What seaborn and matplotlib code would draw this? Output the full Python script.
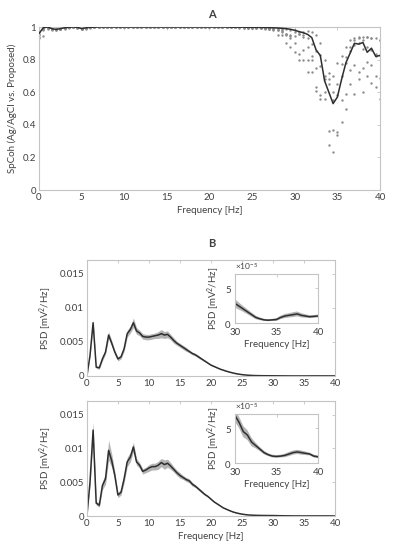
import numpy as np
import pandas as pd
import matplotlib
matplotlib.use("Agg")
import matplotlib.pyplot as plt
from matplotlib.ticker import FuncFormatter
import seaborn as sns

# frequency grid (Hz), 0.5 Hz bins
freq = np.arange(0, 40.5, 0.5)

# panel A: spectral coherence, mean line
coh_mean = [
    0.96, 0.995, 1.0, 0.99, 0.985, 0.99, 0.995, 0.998, 1.0, 0.998,
    0.99, 0.995, 0.998, 0.999, 1.0, 1.0, 1.0, 1.0, 1.0, 1.0,
    1.0, 1.0, 1.0, 1.0, 1.0, 1.0, 1.0, 1.0, 1.0, 1.0,
    1.0, 1.0, 1.0, 1.0, 1.0, 1.0, 1.0, 1.0, 1.0, 1.0,
    1.0, 1.0, 1.0, 1.0, 1.0, 0.999, 0.999, 0.999, 0.999, 0.998,
    0.998, 0.998, 0.997, 0.997, 0.996, 0.995, 0.994, 0.992, 0.99, 0.986,
    0.98, 0.972, 0.965, 0.955, 0.935, 0.86, 0.825, 0.67, 0.6, 0.53,
    0.57, 0.68, 0.78, 0.84, 0.9, 0.895, 0.905, 0.845, 0.87, 0.82,
    0.825,
]

# panel A: individual recordings (dots)
coh_s1 = [
    0.93, 0.945, 0.99, 0.985, 0.98, 0.985, 0.99, 0.995, 0.997, 0.995,
    0.985, 0.99, 0.995, 0.997, 0.998, 0.999, 0.999, 0.999, 0.999, 0.999,
    0.999, 0.999, 0.999, 0.999, 0.999, 0.999, 0.999, 0.999, 0.999, 0.999,
    0.999, 0.999, 0.999, 0.999, 0.999, 0.999, 0.999, 0.999, 0.999, 0.999,
    0.999, 0.999, 0.999, 0.998, 0.998, 0.998, 0.997, 0.997, 0.996, 0.996,
    0.995, 0.995, 0.994, 0.99, 0.985, 0.98, 0.985, 0.98, 0.96, 0.95,
    0.945, 0.97, 0.97, 0.975, 0.97, 0.95, 0.90, 0.80, 0.72, 0.70,
    0.78, 0.82, 0.88, 0.92, 0.93, 0.94, 0.94, 0.94, 0.93, 0.93,
    0.92,
]
coh_s2 = [
    0.95, 0.99, 1.0, 0.99, 0.99, 0.99, 1.0, 1.0, 1.0, 1.0,
    0.99, 1.0, 1.0, 1.0, 1.0, 1.0, 1.0, 1.0, 1.0, 1.0,
    1.0, 1.0, 1.0, 1.0, 1.0, 1.0, 1.0, 1.0, 1.0, 1.0,
    1.0, 1.0, 1.0, 1.0, 1.0, 1.0, 1.0, 1.0, 1.0, 1.0,
    1.0, 1.0, 1.0, 1.0, 1.0, 0.999, 0.999, 0.998, 0.998, 0.997,
    0.998, 0.997, 0.997, 0.996, 0.995, 0.99, 0.953, 0.953, 0.96, 0.943,
    0.98, 0.96, 0.94, 0.878, 0.796, 0.75, 0.76, 0.68, 0.68, 0.60,
    0.65, 0.776, 0.816, 0.878, 0.918, 0.93, 0.867, 0.94, 0.93, 0.837,
    0.918,
]
coh_s3 = [
    0.94, 0.98, 0.995, 0.98, 0.98, 0.99, 0.995, 1.0, 1.0, 0.995,
    0.99, 0.995, 0.998, 0.998, 0.999, 0.999, 0.999, 0.999, 0.999, 0.999,
    0.999, 0.999, 0.999, 0.999, 0.999, 0.999, 0.999, 0.999, 0.999, 0.999,
    0.999, 0.999, 0.999, 0.999, 0.999, 0.999, 0.999, 0.999, 0.999, 0.999,
    0.999, 0.998, 0.998, 0.998, 0.997, 0.997, 0.997, 0.996, 0.996, 0.995,
    0.995, 0.994, 0.993, 0.992, 0.99, 0.985, 0.98, 0.975, 0.90, 0.878,
    0.847, 0.833, 0.80, 0.724, 0.724, 0.633, 0.582, 0.56, 0.363, 0.367,
    0.357, 0.418, 0.59, 0.735, 0.765, 0.724, 0.60, 0.786, 0.765, 0.70,
    0.69,
]
coh_s4 = [
    0.96, 0.99, 0.995, 0.99, 0.985, 0.99, 0.995, 0.998, 0.998, 0.998,
    0.99, 0.995, 0.998, 0.999, 0.999, 0.999, 0.999, 0.999, 0.999, 0.999,
    0.999, 0.999, 0.999, 0.999, 0.999, 0.999, 0.999, 0.999, 0.999, 0.999,
    0.999, 0.999, 0.999, 0.999, 0.999, 0.999, 0.999, 0.999, 0.999, 0.999,
    0.999, 0.999, 0.998, 0.998, 0.998, 0.998, 0.997, 0.997, 0.997, 0.996,
    0.996, 0.995, 0.994, 0.992, 0.99, 0.985, 0.98, 0.97, 0.95, 0.93,
    0.90, 0.80, 0.86, 0.80, 0.82, 0.608, 0.56, 0.60, 0.276, 0.235,
    0.337, 0.55, 0.50, 0.65, 0.59, 0.68, 0.75, 0.70, 0.657, 0.633,
    0.56,
]
coh_s5 = [
    0.97, 0.995, 1.0, 0.99, 0.99, 0.99, 0.995, 1.0, 1.0, 1.0,
    0.995, 0.998, 1.0, 1.0, 1.0, 1.0, 1.0, 1.0, 1.0, 1.0,
    1.0, 1.0, 1.0, 1.0, 1.0, 1.0, 1.0, 1.0, 1.0, 1.0,
    1.0, 1.0, 1.0, 1.0, 1.0, 1.0, 1.0, 1.0, 1.0, 1.0,
    1.0, 1.0, 1.0, 1.0, 1.0, 1.0, 0.999, 0.999, 0.999, 0.999,
    0.999, 0.999, 0.999, 0.998, 0.998, 0.997, 0.995, 0.99, 0.985, 0.98,
    0.97, 0.96, 0.95, 0.93, 0.898, 0.85, 0.83, 0.70, 0.65, 0.55,
    0.58, 0.70, 0.78, 0.85, 0.89, 0.90, 0.92, 0.88, 0.86, 0.82,
    0.83,
]

# panel B, top: PSD mean and spread (mV^2/Hz)
psd1_mean = [
    0.0, 0.0030, 0.0078, 0.0013, 0.0012, 0.0025, 0.0035, 0.0060, 0.0048, 0.0035,
    0.0025, 0.0028, 0.0040, 0.0062, 0.0068, 0.0078, 0.0066, 0.0063, 0.0058, 0.0057,
    0.0057, 0.0058, 0.0059, 0.0060, 0.0062, 0.0060, 0.0061, 0.0057, 0.0052, 0.0048,
    0.0045, 0.0042, 0.0039, 0.0036, 0.0033, 0.0031, 0.0028, 0.0025, 0.0022, 0.0019,
    0.0016, 0.0014, 0.0012, 0.0010, 0.00085, 0.0007, 0.00057, 0.00045, 0.00035, 0.00027,
    0.0002, 0.00015, 0.00011, 8.5e-5, 6.5e-5, 5.2e-5, 4.4e-5, 3.8e-5, 3.4e-5, 3.1e-5,
    2.8e-5, 2.4e-5, 2.0e-5, 1.6e-5, 1.2e-5, 0.8e-5, 0.6e-5, 0.45e-5, 0.4e-5, 0.45e-5,
    0.5e-5, 0.8e-5, 1.0e-5, 1.1e-5, 1.2e-5, 1.3e-5, 1.1e-5, 1.0e-5, 0.9e-5, 0.95e-5,
    1.0e-5,
]
psd1_sd = [
    0.0, 0.0002, 0.0004, 0.0002, 0.0002, 0.0003, 0.0003, 0.0005, 0.0004, 0.0003,
    0.0003, 0.0003, 0.0004, 0.0005, 0.0005, 0.0007, 0.0005, 0.0004, 0.0004, 0.0004,
    0.0004, 0.0004, 0.0004, 0.0005, 0.0006, 0.0005, 0.0005, 0.0004, 0.0004, 0.0003,
    0.0003, 0.0003, 0.0003, 0.0002, 0.0002, 0.0002, 0.0002, 0.00015, 0.00012, 0.0001,
    8e-5, 7e-5, 6e-5, 5e-5, 4e-5, 3e-5, 2.5e-5, 2e-5, 1.5e-5, 1.2e-5,
    1e-5, 8e-6, 7e-6, 6e-6, 6e-6, 6e-6, 6e-6, 6e-6, 6e-6, 6e-6,
    6e-6, 5e-6, 4e-6, 3.5e-6, 3e-6, 2.5e-6, 2e-6, 1.5e-6, 1.5e-6, 1.5e-6,
    2e-6, 2.5e-6, 3e-6, 3e-6, 3.5e-6, 3.5e-6, 3e-6, 2.5e-6, 2e-6, 2e-6,
    2e-6,
]

# panel B, bottom
psd2_mean = [
    0.0, 0.0050, 0.0127, 0.0019, 0.0016, 0.0045, 0.0055, 0.0097, 0.0082, 0.0060,
    0.0031, 0.0035, 0.0055, 0.0080, 0.0087, 0.0102, 0.0080, 0.0075, 0.0066, 0.0068,
    0.0071, 0.0073, 0.0073, 0.0075, 0.0079, 0.0076, 0.0078, 0.0074, 0.0069, 0.0064,
    0.0060, 0.0057, 0.0054, 0.0052, 0.0047, 0.0044, 0.0040, 0.0036, 0.0032, 0.0029,
    0.0025, 0.0021, 0.0018, 0.0015, 0.0012, 0.0010, 0.0008, 0.00062, 0.00048, 0.00037,
    0.00028, 0.00021, 0.00016, 0.00013, 0.00011, 9.5e-5, 8.5e-5, 7.8e-5, 7.3e-5, 7.0e-5,
    6.8e-5, 5.8e-5, 4.5e-5, 4.0e-5, 3.0e-5, 2.5e-5, 2.0e-5, 1.5e-5, 1.2e-5, 1.0e-5,
    0.95e-5, 1.0e-5, 1.1e-5, 1.3e-5, 1.5e-5, 1.6e-5, 1.5e-5, 1.4e-5, 1.3e-5, 1.0e-5,
    0.9e-5,
]
psd2_sd = [
    0.0, 0.0005, 0.0012, 0.0003, 0.0003, 0.0006, 0.0008, 0.0015, 0.0010, 0.0006,
    0.0004, 0.0004, 0.0006, 0.0007, 0.0007, 0.0007, 0.0005, 0.0004, 0.0004, 0.0004,
    0.0005, 0.0005, 0.0005, 0.0006, 0.0006, 0.0007, 0.0006, 0.0005, 0.0004, 0.0004,
    0.0004, 0.0003, 0.0003, 0.0003, 0.0003, 0.0002, 0.0002, 0.0002, 0.00015, 0.00012,
    0.0001, 8e-5, 7e-5, 6e-5, 5e-5, 4e-5, 3e-5, 2.5e-5, 2e-5, 1.5e-5,
    1.2e-5, 1e-5, 1e-5, 1e-5, 1e-5, 1e-5, 9e-6, 9e-6, 9e-6, 9e-6,
    9e-6, 8e-6, 8e-6, 7e-6, 6e-6, 4e-6, 3e-6, 2.5e-6, 2e-6, 2e-6,
    2e-6, 2e-6, 2.5e-6, 3e-6, 3e-6, 3e-6, 3e-6, 2.5e-6, 2e-6, 2e-6,
    2e-6,
]

LINE_C = "#2e2e2e"
BAND_C = "#b4b4b4"
DOT_C = "#8c8c8c"
SPINE_C = "#c4c4c4"
TEXT_C = "#404040"
FS = 7

sns.set_style("white")
plt.rcParams["font.family"] = ["Lato", "DejaVu Sans"]
plt.rcParams["mathtext.fontset"] = "custom"
plt.rcParams["mathtext.rm"] = "Lato"
plt.rcParams["mathtext.it"] = "Lato:italic"


def style_axes(ax, pad=2):
    for sp in ax.spines.values():
        sp.set_color(SPINE_C)
        sp.set_linewidth(0.8)
    ax.tick_params(direction="in", top=True, right=True, length=2,
                   width=0.6, color=SPINE_C, labelsize=FS, labelcolor=TEXT_C, pad=pad)


fmt = FuncFormatter(lambda v, p: f"{v:g}")

fig = plt.figure(figsize=(3.95, 5.5), dpi=100)

# ---- panel A ----
axA = fig.add_axes([0.0987, 0.6545, 0.8633, 0.2964])
subj = pd.DataFrame({
    "freq": np.tile(freq, 5),
    "coh": np.concatenate([coh_s1, coh_s2, coh_s3, coh_s4, coh_s5]),
})
sns.scatterplot(data=subj, x="freq", y="coh", ax=axA, color=DOT_C,
                s=3, marker="o", linewidth=0, zorder=2)
sns.lineplot(x=freq, y=coh_mean, ax=axA, color=LINE_C, lw=1.1,
             estimator=None, zorder=3)
axA.set_xlim(0, 40)
axA.set_ylim(0, 1)
axA.set_xticks(np.arange(0, 41, 5))
axA.set_yticks(np.arange(0, 1.01, 0.2))
axA.xaxis.set_major_formatter(fmt)
axA.yaxis.set_major_formatter(fmt)
axA.set_xlabel("Frequency [Hz]", fontsize=FS, color=TEXT_C, labelpad=3)
axA.set_ylabel("SpCoh (Ag/AgCl vs. Proposed)", fontsize=FS, color=TEXT_C, labelpad=4)
style_axes(axA)
fig.text(0.537, 0.973, "A", ha="center", va="center", fontsize=8,
         fontweight="bold", color=TEXT_C)
fig.text(0.537, 0.558, "B", ha="center", va="center", fontsize=8,
         fontweight="bold", color=TEXT_C)

# ---- panel B ----
psd_sets = [(psd1_mean, psd1_sd), (psd2_mean, psd2_sd)]
main_pos = [[0.220, 0.3164, 0.628, 0.2109], [0.220, 0.0618, 0.628, 0.2091]]
inset_pos = [[0.595, 0.4127, 0.210, 0.089], [0.595, 0.158, 0.210, 0.089]]

for i, (m, sd) in enumerate(psd_sets):
    m = np.array(m)
    sd = np.array(sd)
    ax = fig.add_axes(main_pos[i])
    ax.fill_between(freq, m - sd, m + sd, color=BAND_C, lw=0, zorder=1)
    sns.lineplot(x=freq, y=m, ax=ax, color=LINE_C, lw=1.1, estimator=None, zorder=2)
    ax.set_xlim(0, 40)
    ax.set_ylim(0, 0.017)
    ax.set_xticks(np.arange(0, 41, 5))
    ax.set_yticks([0, 0.005, 0.01, 0.015])
    ax.xaxis.set_major_formatter(fmt)
    ax.yaxis.set_major_formatter(fmt)
    ax.set_ylabel("PSD [mV$^2$/Hz]", fontsize=FS, color=TEXT_C, labelpad=4)
    if i == 1:
        ax.set_xlabel("Frequency [Hz]", fontsize=FS, color=TEXT_C, labelpad=3)
    else:
        ax.set_xlabel("")
    style_axes(ax)

    ins = fig.add_axes(inset_pos[i])
    ins.set_zorder(5)
    ins.fill_between(freq, m - sd, m + sd, color=BAND_C, lw=0, zorder=1)
    sns.lineplot(x=freq, y=m, ax=ins, color=LINE_C, lw=1.1, estimator=None, zorder=2)
    ins.set_xlim(30, 40)
    ins.set_ylim(0, 7e-5)
    ins.set_xticks([30, 35, 40])
    ins.set_yticks([0, 5e-5])
    ins.ticklabel_format(axis="y", style="sci", scilimits=(0, 0), useMathText=True)
    ins.yaxis.get_offset_text().set_fontsize(6)
    ins.yaxis.get_offset_text().set_color(TEXT_C)
    ins.set_xlabel("Frequency [Hz]", fontsize=FS, color=TEXT_C, labelpad=2)
    ins.set_ylabel("PSD [mV$^2$/Hz]", fontsize=FS, color=TEXT_C, labelpad=2)
    style_axes(ins)
    ins.tick_params(axis="x", pad=3.5)
    ins.tick_params(axis="y", pad=2.5)

fig.savefig("out.png", dpi=100)
